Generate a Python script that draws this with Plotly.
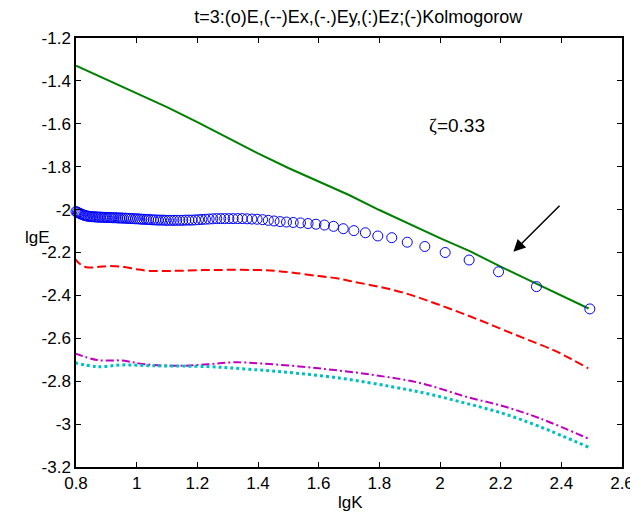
import plotly.graph_objects as go

# E spectrum (circles)
lgk_E = [2.494, 2.318, 2.193, 2.096, 2.017, 1.950, 1.892, 1.841, 1.795, 1.754,
         1.716, 1.681, 1.649, 1.619, 1.591, 1.565, 1.540, 1.516, 1.494, 1.473,
         1.453, 1.434, 1.415, 1.397, 1.380, 1.364, 1.348, 1.333, 1.318, 1.304,
         1.290, 1.277, 1.264, 1.251, 1.239, 1.227, 1.215, 1.204, 1.193, 1.182,
         1.172, 1.162, 1.152, 1.142, 1.132, 1.123, 1.114, 1.105, 1.096, 1.088,
         1.079, 1.071, 1.063, 1.055, 1.047, 1.039, 1.032, 1.024, 1.017, 1.010,
         1.003, 0.996, 0.989, 0.982, 0.976, 0.969, 0.963, 0.956, 0.950, 0.944,
         0.938, 0.932, 0.926, 0.920, 0.914, 0.909, 0.903, 0.898, 0.892, 0.887,
         0.881, 0.876, 0.871, 0.866, 0.861, 0.856, 0.851, 0.846, 0.841, 0.836,
         0.831, 0.827, 0.822, 0.817, 0.813, 0.808, 0.804, 0.800, 0.795]
lgE_E = [-2.463, -2.359, -2.290, -2.235, -2.200, -2.172, -2.152, -2.131, -2.123, -2.108,
         -2.098, -2.089, -2.078, -2.072, -2.068, -2.065, -2.062, -2.060, -2.058, -2.056,
         -2.053, -2.050, -2.047, -2.045, -2.044, -2.043, -2.042, -2.042, -2.042, -2.042,
         -2.042, -2.042, -2.042, -2.043, -2.044, -2.045, -2.046, -2.047, -2.048, -2.049,
         -2.049, -2.049, -2.050, -2.050, -2.050, -2.050, -2.050, -2.050, -2.050, -2.049,
         -2.049, -2.049, -2.048, -2.048, -2.047, -2.046, -2.046, -2.045, -2.045, -2.044,
         -2.043, -2.043, -2.042, -2.042, -2.041, -2.041, -2.040, -2.040, -2.039, -2.039,
         -2.039, -2.038, -2.038, -2.038, -2.037, -2.037, -2.037, -2.036, -2.036, -2.036,
         -2.035, -2.035, -2.035, -2.034, -2.034, -2.033, -2.033, -2.032, -2.031, -2.030,
         -2.028, -2.026, -2.024, -2.021, -2.018, -2.015, -2.012, -2.009, -2.006]

# Kolmogorow line
lgk_K = [0.80, 0.90, 1.00, 1.10, 1.20, 1.30, 1.40, 1.50, 1.60, 1.70,
         1.80, 1.90, 2.00, 2.10, 2.20, 2.30, 2.40, 2.49]
lgE_K = [-1.329, -1.393, -1.457, -1.522, -1.592, -1.664, -1.738, -1.806, -1.868, -1.932,
         -2.002, -2.068, -2.133, -2.195, -2.266, -2.333, -2.400, -2.461]

# Ex (dashed)
lgk_x = [0.795, 0.81, 0.835, 0.87, 0.912, 0.96, 1.00, 1.044, 1.10, 1.15,
         1.22, 1.30, 1.407, 1.46, 1.516, 1.60, 1.66, 1.714, 1.80, 1.879,
         1.96, 2.044, 2.13, 2.209, 2.29, 2.374, 2.43, 2.489]
lgE_x = [-2.227, -2.250, -2.269, -2.268, -2.263, -2.268, -2.278, -2.286, -2.286, -2.285,
         -2.282, -2.281, -2.282, -2.286, -2.294, -2.310, -2.320, -2.336, -2.360, -2.387,
         -2.425, -2.468, -2.515, -2.561, -2.607, -2.655, -2.695, -2.740]

# Ey (dash-dot)
lgk_y = [0.796, 0.869, 0.954, 1.027, 1.149, 1.234, 1.319, 1.417, 1.599, 1.781,
         1.939, 2.085, 2.207, 2.329, 2.493]
lgE_y = [-2.670, -2.701, -2.704, -2.721, -2.728, -2.721, -2.712, -2.718, -2.740, -2.771,
         -2.810, -2.872, -2.916, -2.973, -3.070]

# Ez (dotted)
lgk_z = [0.796, 0.869, 0.954, 1.052, 1.234, 1.356, 1.477, 1.672, 1.842, 1.964,
         2.085, 2.207, 2.329, 2.493]
lgE_z = [-2.714, -2.732, -2.724, -2.728, -2.732, -2.743, -2.756, -2.786, -2.826, -2.860,
         -2.903, -2.950, -3.012, -3.110]

x_ticks = [0.8, 1.0, 1.2, 1.4, 1.6, 1.8, 2.0, 2.2, 2.4, 2.6]
x_labels = ["0.8", "1", "1.2", "1.4", "1.6", "1.8", "2", "2.2", "2.4", "2.6"]
y_ticks = [-1.2, -1.4, -1.6, -1.8, -2.0, -2.2, -2.4, -2.6, -2.8, -3.0, -3.2]
y_labels = ["-1.2", "-1.4", "-1.6", "-1.8", "-2", "-2.2", "-2.4", "-2.6", "-2.8", "-3", "-3.2"]

font = "Arial, Liberation Sans, sans-serif"

fig = go.Figure()
fig.add_trace(go.Scatter(x=lgk_K, y=lgE_K, mode="lines",
                         line=dict(color="rgb(0,128,0)", width=2)))
fig.add_trace(go.Scatter(x=lgk_x, y=lgE_x, mode="lines", line_shape="spline",
                         line=dict(color="rgb(255,0,0)", width=2, dash="9px,4px")))
fig.add_trace(go.Scatter(x=lgk_y, y=lgE_y, mode="lines", line_shape="spline",
                         line=dict(color="rgb(191,0,191)", width=2, dash="8px,3px,2px,3px")))
fig.add_trace(go.Scatter(x=lgk_z, y=lgE_z, mode="lines", line_shape="spline",
                         line=dict(color="rgb(0,191,191)", width=3, dash="3px,3px")))
fig.add_trace(go.Scatter(x=lgk_E, y=lgE_E, mode="markers", cliponaxis=False,
                         marker=dict(symbol="circle-open", size=10,
                                     color="rgb(0,0,255)", line=dict(width=1))))

axis = dict(showgrid=False, zeroline=False, showline=True, linecolor="black",
            linewidth=1.5, mirror="ticks", ticks="inside", ticklen=5,
            tickcolor="black", automargin=False,
            tickfont=dict(family=font, size=17, color="black"))
fig.update_xaxes(range=[0.8, 2.6], tickvals=x_ticks, ticktext=x_labels, **axis)
fig.update_yaxes(range=[-3.2, -1.2], tickvals=y_ticks, ticktext=y_labels, **axis)

# page body has an 8px margin; keep the figure inside the window so no scrollbar shows
fig.update_layout(
    width=630, height=503,
    margin=dict(l=68, r=16, t=30, b=44),
    paper_bgcolor="white", plot_bgcolor="white",
    showlegend=False,
    title=dict(text="t=3:(o)E,(--)Ex,(-.)Ey,(:)Ez;(-)Kolmogorow",
               x=0.556, xanchor="center", y=0.982, yanchor="middle",
               font=dict(family=font, size=18, color="black")),
    annotations=[
        dict(x=2.242, y=-2.196, ax=2.399, ay=-1.975, xref="x", yref="y",
             axref="x", ayref="y", text="", showarrow=True, arrowhead=2,
             arrowsize=1.6, arrowwidth=1.5, arrowcolor="black"),
        dict(x=2.055, y=-1.61, xref="x", yref="y",
             text="<span style='font-family:Liberation Serif, Times New Roman, serif'>ζ</span>=0.33",
             showarrow=False, font=dict(family=font, size=19, color="black")),
        dict(x=0.502, y=-0.082, xref="paper", yref="paper", text="lgK", showarrow=False,
             yanchor="middle", font=dict(family=font, size=17, color="black")),
        dict(x=-0.07, y=-2.13, xref="paper", yref="y", text="lgE", showarrow=False,
             xanchor="center", font=dict(family=font, size=17, color="black")),
    ],
)

fig.write_html("out.html")
